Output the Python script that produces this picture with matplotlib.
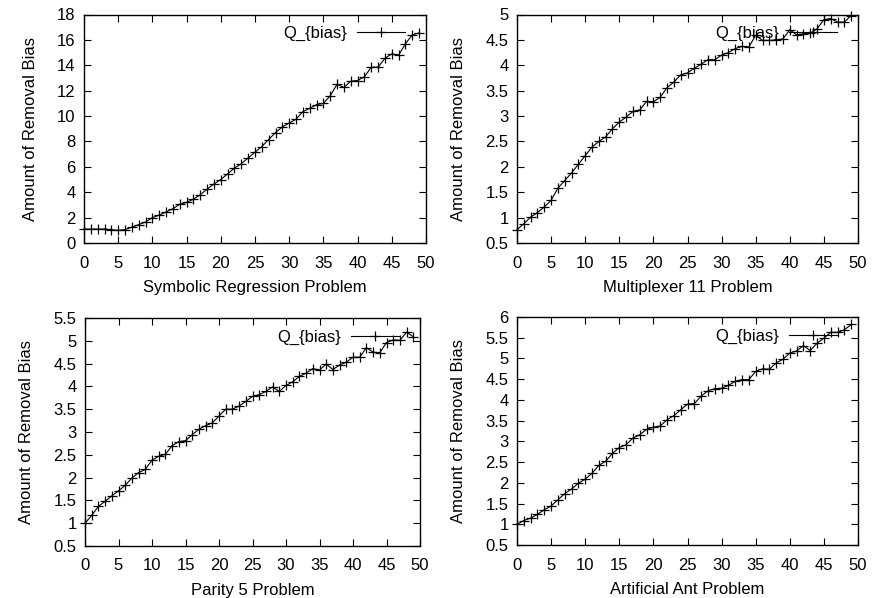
import numpy as np
import matplotlib
matplotlib.use('Agg')
from matplotlib import pyplot as plt

plt.rcParams['font.family'] = ['Liberation Sans', 'DejaVu Sans']

generations = list(range(50))

symbolic_bias = [1.1, 1.1, 1.1, 1.1, 1.05, 1.0, 1.05, 1.25, 1.45, 1.65,
                 2.0, 2.2, 2.45, 2.7, 3.05, 3.2, 3.45, 3.8, 4.25, 4.65,
                 5.0, 5.45, 5.9, 6.25, 6.7, 7.15, 7.6, 8.15, 8.7, 9.15,
                 9.45, 9.75, 10.35, 10.6, 10.9, 11.0, 11.6, 12.5, 12.25, 12.75,
                 12.8, 13.1, 13.85, 13.85, 14.55, 14.9, 14.8, 15.7, 16.4, 16.55]

multiplexer_bias = [0.76, 0.88, 1.01, 1.1, 1.21, 1.34, 1.58, 1.73, 1.88, 2.05,
                    2.22, 2.39, 2.5, 2.59, 2.75, 2.88, 2.98, 3.09, 3.12, 3.29,
                    3.28, 3.37, 3.56, 3.67, 3.81, 3.85, 3.94, 4.02, 4.11, 4.11,
                    4.2, 4.25, 4.33, 4.37, 4.36, 4.59, 4.49, 4.49, 4.5, 4.52,
                    4.7, 4.6, 4.62, 4.63, 4.72, 4.9, 4.92, 4.85, 4.85, 4.98]

parity_bias = [1.0, 1.17, 1.37, 1.48, 1.6, 1.71, 1.83, 1.99, 2.11, 2.18,
               2.38, 2.47, 2.51, 2.7, 2.79, 2.81, 2.94, 3.06, 3.14, 3.2,
               3.35, 3.5, 3.5, 3.57, 3.67, 3.78, 3.82, 3.89, 3.99, 3.89,
               4.02, 4.1, 4.22, 4.29, 4.39, 4.36, 4.49, 4.37, 4.47, 4.53,
               4.64, 4.64, 4.85, 4.75, 4.74, 4.96, 5.02, 5.01, 5.19, 5.09]

ant_bias = [1.0, 1.09, 1.15, 1.24, 1.35, 1.44, 1.59, 1.74, 1.85, 1.99,
            2.09, 2.23, 2.42, 2.52, 2.71, 2.85, 2.92, 3.08, 3.16, 3.29,
            3.34, 3.37, 3.52, 3.62, 3.76, 3.9, 3.91, 4.09, 4.22, 4.27,
            4.28, 4.35, 4.45, 4.49, 4.49, 4.69, 4.75, 4.74, 4.89, 4.98,
            5.13, 5.18, 5.31, 5.19, 5.37, 5.49, 5.63, 5.63, 5.69, 5.82]

problem_names = ['Symbolic Regression Problem', 'Multiplexer 11 Problem',
                 'Parity 5 Problem', 'Artificial Ant Problem']
y_ticks = [list(range(0, 19, 2)),
           [0.5, 1, 1.5, 2, 2.5, 3, 3.5, 4, 4.5, 5],
           [0.5, 1, 1.5, 2, 2.5, 3, 3.5, 4, 4.5, 5, 5.5],
           [0.5, 1, 1.5, 2, 2.5, 3, 3.5, 4, 4.5, 5, 5.5, 6]]
x_ticks = list(range(0, 51, 5))

W, H = 872, 598
fig = plt.figure(figsize=(W / 100, H / 100), dpi=100)

# axes boxes in pixels: left, right, top, bottom
boxes = [(84, 426, 14.5, 243),
         (517, 858, 14.5, 243),
         (85, 420, 318, 546),
         (517, 858, 317, 545)]

series = [symbolic_bias, multiplexer_bias, parity_bias, ant_bias]

for box, values, name, yt in zip(boxes, series, problem_names, y_ticks):
    l, r, t, b = box
    ax = fig.add_axes([l / W, 1 - b / H, (r - l) / W, (b - t) / H])
    ax.plot(generations, values, color='black', lw=0.8, marker='+',
            markersize=7, mew=0.9, clip_on=False, label='Q_{bias}')
    ax.set_xlim(0, 50)
    ax.set_ylim(yt[0], yt[-1])
    ax.set_xticks(x_ticks)
    ax.set_yticks(yt)
    ax.set_yticklabels([('%g' % v) for v in yt])
    ax.tick_params(direction='in', top=True, right=True, length=5,
                   width=0.8, labelsize=12)
    ax.tick_params(axis='x', pad=9)
    ax.tick_params(axis='y', pad=6)
    for s in ax.spines.values():
        s.set_linewidth(1.0)
    ax.set_xlabel(name, fontsize=12, labelpad=7)
    ax.set_ylabel('Amount of Removal Bias', fontsize=12, labelpad=14)
    # gnuplot style key: text first, sample line after it
    ax.legend(loc='upper right', frameon=False, fontsize=12, numpoints=1,
              markerfirst=False, handlelength=2.9, handletextpad=0.6,
              borderaxespad=0.3, bbox_to_anchor=(1.0 - 9.0 / (r - l), 1.0))

fig.savefig('out.png', dpi=100)
